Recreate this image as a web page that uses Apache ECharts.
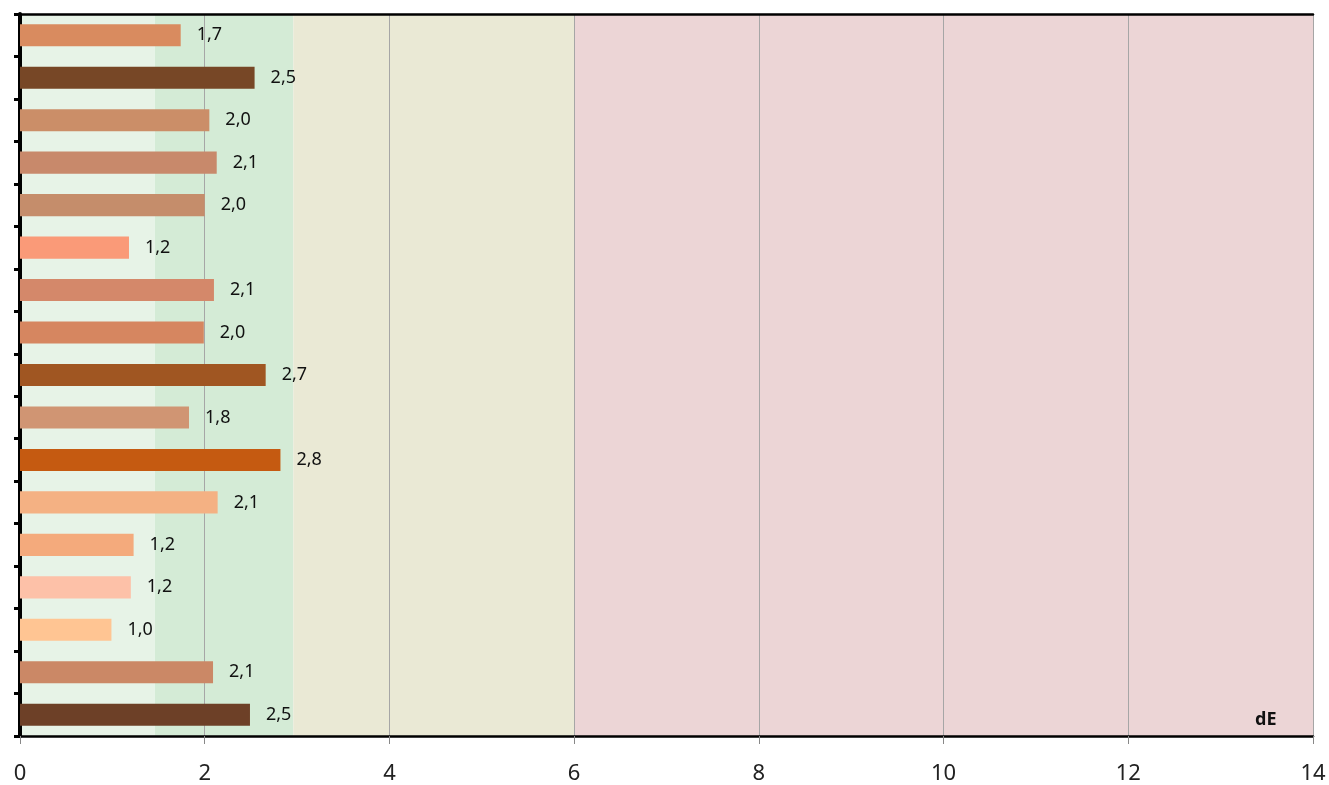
<!DOCTYPE html>
<html><head><meta charset="utf-8">
<script src="https://cdn.jsdelivr.net/npm/echarts@6/dist/echarts.min.js"></script>
<style>html,body{margin:0;padding:0;background:#fff}#c{width:1329px;height:785px}</style>
</head><body><div id="c"></div>
<script>
const categories = ['1','2','3','4','5','6','7','8','9','10','11','12','13','14','15','16','17'];
const values = [1.74, 2.54, 2.05, 2.13, 2.0, 1.18, 2.1, 1.99, 2.66, 1.83, 2.82, 2.14, 1.23, 1.2, 0.99, 2.09, 2.49];
const barColors = ['#D98B5F','#774726','#CB8E68','#C8896B','#C58D6B','#FA9A78','#D4886A','#D68660','#A05622','#D09573','#C55A11','#F4B183','#F4AA7C','#FDC1A8','#FFC593','#CB8866','#6D4027'];
const bands = [[0,1.46,'#E7F3E7'],[1.46,2.96,'#D4EBD6'],[2.96,6,'#EAE9D5'],[6,14,'#ECD5D6']];
const xTicks = [0,2,4,6,8,10,12,14];
const axisTitle = 'dE';

const chart = echarts.init(document.getElementById('c'));
chart.setOption({
  animation:false,
  grid:{left:20,top:14,right:16,bottom:49,containLabel:false},
  xAxis:[{
    type:'value',min:0,max:14,interval:2,position:'bottom',
    axisLine:{show:true,lineStyle:{color:'#000',width:2.5}},
    axisTick:{show:true,length:8,lineStyle:{color:'#888',width:1}},
    axisLabel:{fontSize:22,color:'#222',margin:27,fontFamily:'Noto Sans'},
    splitLine:{show:true,lineStyle:{color:'#a6a6a6',width:1}},
    name:axisTitle,nameLocation:'end',nameGap:-58,
    nameTextStyle:{fontSize:18,fontWeight:'bold',color:'#111',padding:[0,0,7,0],verticalAlign:'bottom',fontFamily:'Noto Sans'}
  },{
    type:'value',min:0,max:14,position:'top',
    axisLine:{show:true,lineStyle:{color:'#000',width:2.5}},
    axisTick:{show:false},axisLabel:{show:false},splitLine:{show:false}
  }],
  yAxis:[{
    type:'category',data:categories,inverse:true,
    axisLine:{show:true,lineStyle:{color:'#000',width:4}},
    axisTick:{show:true,length:6,lineStyle:{color:'#000',width:3}},
    axisLabel:{show:false},splitLine:{show:false}
  },{
    type:'category',data:categories,inverse:true,position:'right',
    axisLine:{show:true,lineStyle:{color:'#000',width:2}},
    axisTick:{show:false},axisLabel:{show:false}
  }],
  series:[{
    type:'bar',
    data:values.map((v,i)=>({value:v,itemStyle:{color:barColors[i]}})),
    barCategoryGap:'48%',
    label:{show:true,position:'right',distance:16,fontSize:18,color:'#111',
      fontFamily:'Noto Sans',
      formatter:p=>p.value.toFixed(1).replace('.',',')},
    markArea:{silent:true,z:-1,
      data:bands.map(b=>[{xAxis:b[0],itemStyle:{color:b[2]}},{xAxis:b[1]}])},
    z:3
  }]
});
</script></body></html>
